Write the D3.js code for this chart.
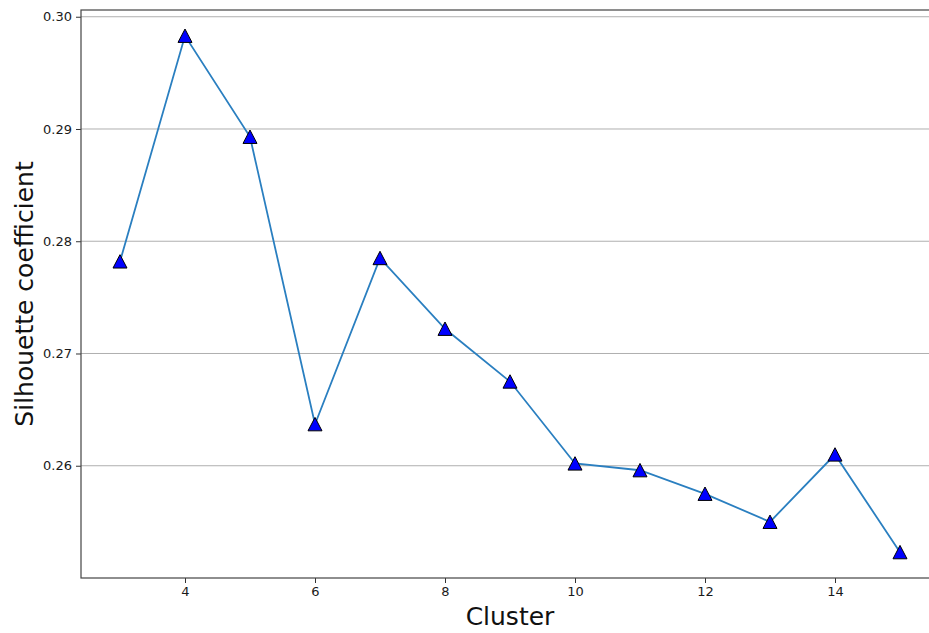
<!DOCTYPE html>
<html>
<head>
<meta charset="utf-8">
<script src="https://cdn.jsdelivr.net/npm/d3@7"></script>
<style>
  html, body { margin: 0; padding: 0; background: #fff; }
  svg { display: block; font-family: "DejaVu Sans", sans-serif; }
</style>
</head>
<body>
<svg id="chart" width="929" height="633"></svg>
<script>
const clusters = [3, 4, 5, 6, 7, 8, 9, 10, 11, 12, 13, 14, 15];
const silhouette = [0.2782, 0.2983, 0.2893, 0.2637, 0.2785, 0.2722, 0.2675, 0.2602, 0.2596, 0.2575, 0.2550, 0.2610, 0.2523];
const xTicks = [4, 6, 8, 10, 12, 14];
const yTicks = [0.26, 0.27, 0.28, 0.29, 0.30];
const xLabel = "Cluster";
const yLabel = "Silhouette coefficient";

const svg = d3.select("#chart");
const mLeft = 81, mRight = 939, mTop = 10, mBottom = 578;

const xMin = d3.min(clusters), xMax = d3.max(clusters);
const xPad = (xMax - xMin) * 0.05;
const yMin = d3.min(silhouette), yMax = d3.max(silhouette);
const yPad = (yMax - yMin) * 0.05;

const x = d3.scaleLinear().domain([xMin - xPad, xMax + xPad]).range([mLeft, mRight]);
const y = d3.scaleLinear().domain([yMin - yPad, yMax + yPad]).range([mBottom, mTop]);

// grid
svg.append("g").selectAll("line").data(yTicks).join("line")
  .attr("x1", mLeft).attr("x2", mRight)
  .attr("y1", d => y(d)).attr("y2", d => y(d))
  .attr("stroke", "#b0b0b0").attr("stroke-width", 1);

// axes
const xAxis = svg.append("g").attr("transform", `translate(0,${mBottom})`)
  .call(d3.axisBottom(x).tickValues(xTicks).tickFormat(d3.format("d")).tickSize(5).tickPadding(4));
const yAxis = svg.append("g").attr("transform", `translate(${mLeft},0)`)
  .call(d3.axisLeft(y).tickValues(yTicks).tickFormat(d3.format(".2f")).tickSize(5).tickPadding(4));
[xAxis, yAxis].forEach(g => {
  g.select(".domain").remove();
  g.selectAll("line").attr("stroke", "#333");
  g.selectAll("text").attr("fill", "#1a1a1a").style("font-size", "13px").style("font-family", "DejaVu Sans");
});

// spines
svg.append("rect").attr("x", mLeft).attr("y", mTop).attr("width", mRight - mLeft).attr("height", mBottom - mTop)
  .attr("fill", "none").attr("stroke", "#444").attr("stroke-width", 1.2);

// line
const line = d3.line().x((d, i) => x(clusters[i])).y(d => y(d));
svg.append("path").datum(silhouette).attr("d", line)
  .attr("fill", "none").attr("stroke", "#2a7fc0").attr("stroke-width", 1.8);

// markers (matplotlib-style '^', centred on bounding box)
const triPath = "M0,-6.8L7,6.6L-7,6.6Z";
svg.append("g").selectAll("path").data(silhouette).join("path")
  .attr("d", triPath)
  .attr("transform", (d, i) => `translate(${x(clusters[i])},${y(d)})`)
  .attr("fill", "#0000ff").attr("stroke", "#000").attr("stroke-width", 1).attr("stroke-linejoin", "miter");

// labels
svg.append("text").attr("x", (mLeft + 929) / 2 + 5).attr("y", 625)
  .attr("text-anchor", "middle").style("font-size", "25px").attr("fill", "#111").text(xLabel);
svg.append("text").attr("transform", `translate(33,${(mTop + mBottom) / 2}) rotate(-90)`)
  .attr("text-anchor", "middle").style("font-size", "25px").attr("fill", "#111").text(yLabel);
</script>
</body>
</html>
